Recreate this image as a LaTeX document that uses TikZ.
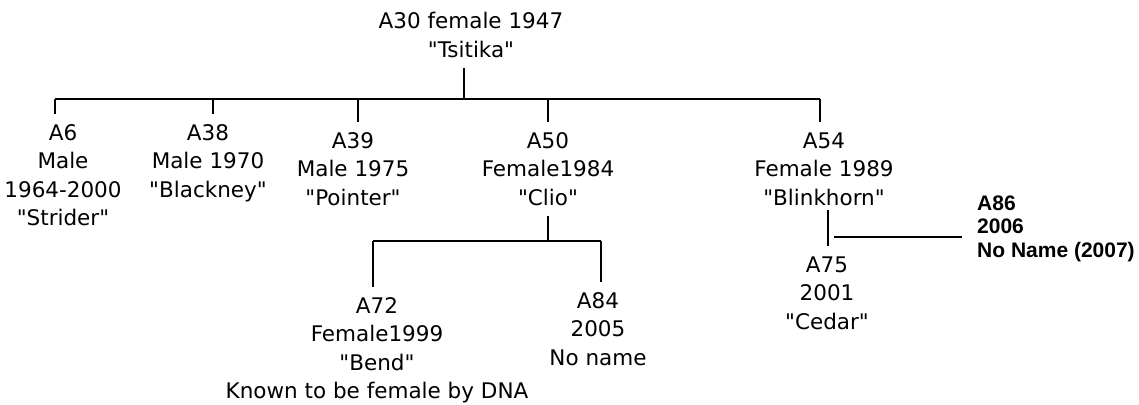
\documentclass[tikz,border=0pt]{standalone}
\usepackage{fontspec}
\newfontfamily\podfont{DejaVu Sans}
\newfontfamily\notefont{Liberation Sans}
\usepackage{tikz}

\begin{document}
\begin{tikzpicture}[x=1pt, y=-1pt, font=\podfont\fontsize{21.5}{28.5}\selectfont,
  pod/.style={align=center, anchor=base, inner sep=0pt, outer ysep=10.5pt},
  note/.style={align=left, anchor=base west, inner sep=0pt, font=\notefont\bfseries\fontsize{21}{23.5}\selectfont},
  link/.style={line width=2.2pt}]
\useasboundingbox (0,0) rectangle (1139,404);
% anchor=base sits on the last line
\node[pod] (a30) at (471,57.5) {A30 female 1947\\"Tsitika"};
\node[pod] (a6) at (63,225.5) {A6\\Male\\1964-2000\\"Strider"};
\node[pod] (a38) at (208,197) {A38\\Male 1970\\"Blackney"};
\node[pod] (a39) at (353,205) {A39\\Male 1975\\"Pointer"};
\node[pod] (a50) at (548,205) {A50\\Female1984\\"Clio"};
\node[pod] (a54) at (824,205) {A54\\Female 1989\\"Blinkhorn"};
\node[pod] (a72) at (377,398.5) {A72\\Female1999\\"Bend"\\Known to be female by DNA};
\node[pod] (a84) at (598,365) {A84\\2005\\No name};
\node[pod] (a75) at (827,329) {A75\\2001\\"Cedar"};
\node[note] (a86) at (977,257) {A86\\2006\\No Name (2007)};
\coordinate (busW) at (55,99); \coordinate (busE) at (820,99);
\coordinate (clioW) at (373,241); \coordinate (clioE) at (601,241);
\coordinate (tie) at (834,237);
% Tsitika and her offspring
\draw[link] ([xshift=-7pt]a30.south) -- ([xshift=-7pt]a30.south |- busW);
\draw[link] (busW) -- (busE);
\draw[link] (busW) -- (busW |- a6.north);
\draw[link] ([xshift=5pt]a38.north) -- ([xshift=5pt]a38.north |- busW);
\draw[link] ([xshift=5pt]a39.north) -- ([xshift=5pt]a39.north |- busW);
\draw[link] (a50.north) -- (a50.north |- busW);
\draw[link] (busE) -- (busE |- a54.north);
% Clio
\draw[link] (a50.south) -- (a50.south |- clioW);
\draw[link] (clioW) -- (clioE);
\draw[link] (clioW) -- (clioW |- a72.north);
\draw[link] (clioE) -- (clioE |- a84.north);
% Blinkhorn
\draw[link, shorten <=-6pt] ([xshift=4pt]a54.south) -- ([xshift=1pt]a75.north);
\draw[link] (tie) -- ([xshift=-15pt]a86.west |- tie);
\end{tikzpicture}
\end{document}
